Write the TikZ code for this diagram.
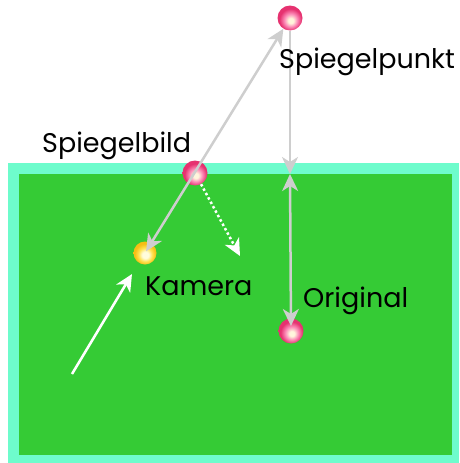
\documentclass[tikz,border=0pt]{standalone}
\usepackage{fontspec}
\setmainfont{Poppins}
\usetikzlibrary{arrows.meta,positioning}
\definecolor{mGreen}{RGB}{53,203,53}
\definecolor{mCyan}{RGB}{110,252,204}
\definecolor{mRay}{RGB}{206,206,206}
\definecolor{bHigh}{RGB}{255,246,220}
\definecolor{bMid}{RGB}{252,140,184}
\definecolor{bRim}{RGB}{230,50,112}
\definecolor{yHigh}{RGB}{255,252,220}
\definecolor{yMid}{RGB}{255,226,80}
\definecolor{yRim}{RGB}{245,190,20}
\pgfdeclareradialshading{pinkball}{\pgfpoint{2bp}{-6bp}}{color(0bp)=(bHigh); color(5bp)=(bHigh); color(13bp)=(bMid); color(22bp)=(bRim); color(25bp)=(bRim); color(50bp)=(bRim)}
\pgfdeclareradialshading{yellowball}{\pgfpoint{1bp}{-5bp}}{color(0bp)=(yHigh); color(7bp)=(yHigh); color(15bp)=(yMid); color(23bp)=(yRim); color(25bp)=(yRim); color(50bp)=(yRim)}
\tikzset{
  every picture/.style={x=1pt, y=-1pt, >={Stealth[length=17pt, width=16pt, inset=5pt]}},
  sBall/.style={circle, minimum size=25pt, inner sep=0pt, shading=pinkball},
  sCam/.style={sBall, minimum size=23pt, shading=yellowball},
  sRay/.style={draw=mRay, line width=2.5pt},
  sLight/.style={draw=white, line width=2.5pt},
  sDots/.style={sLight, dash pattern=on 2.5pt off 2.5pt},
  sLabel/.style={font=\fontsize{27}{31}\selectfont, text=black, inner sep=0pt, anchor=base west},
}

\begin{document}
\begin{tikzpicture}
  \useasboundingbox (0,0) rectangle (459,463);
  % mirror (water) surface
  \fill[mCyan] (8,163) rectangle (459,463);
  \fill[mGreen] (19,174) rectangle (452,455);
  % balls
  \node[sBall] (pPunkt) at (290,18) {};
  \node[sBall] (pBild) at (195,173) {};
  \node[sCam] (pKamera) at (145,253) {};
  \node[sBall] (pOrig) at (291,331) {};
  \coordinate (sTop) at (290,174);
  \coordinate (cDot) at (240,256);
  \coordinate (cFrom) at (72,374);
  \coordinate (cTo) at (132,274);
  % rays
  \draw[sRay, <->, shorten <=2pt] (pKamera.center) -- (pPunkt);
  \draw[sRay, ->] (pPunkt) -- (sTop);
  \draw[sRay, <->, shorten >=5pt] (sTop) -- (pOrig.center);
  \draw[sDots, ->] (pBild) -- (cDot);
  \draw[sLight, ->] (cFrom) -- (cTo);
  % labels
  \node[sLabel] (tPunkt) at (279,68) {Spiegelpunkt};
  \node[sLabel] (tBild) at (42,152) {Spiegelbild};
  \node[sLabel] (tKamera) at (145,295) {Kamera};
  \node[sLabel] (tOrig) at (303,307) {Original};
\end{tikzpicture}
\end{document}
